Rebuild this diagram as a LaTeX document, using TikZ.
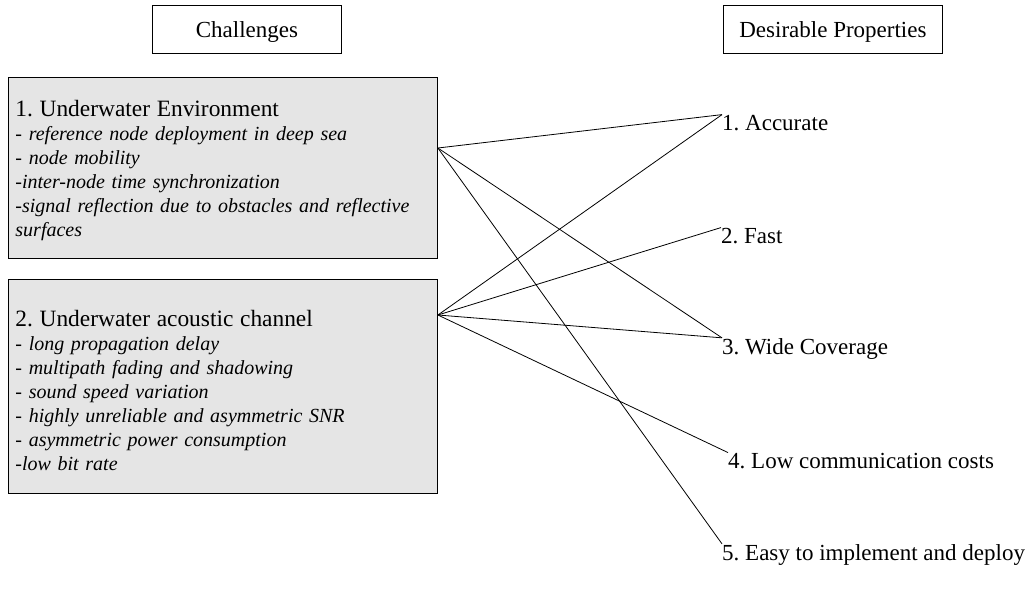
\documentclass[tikz,border=0pt]{standalone}
\usepackage{fontspec}
\setmainfont{Liberation Serif}
\definecolor{boxgray}{gray}{0.9}
\frenchspacing

\begin{document}
\begin{tikzpicture}[x=1pt, y=-1pt]
% Styles
\tikzset{
    head/.style={draw, line width=0.9pt, minimum height=48pt, inner sep=0pt, text depth=0pt, anchor=north west, font=\fontsize{23}{27}\selectfont},
    chbox/.style={draw, line width=0.9pt, fill=boxgray, anchor=north west, minimum width=429pt, inner xsep=7pt, inner ysep=0pt, text width=415pt, align=left, font=\fontsize{20}{24}\selectfont},
    prop/.style={anchor=base west, inner sep=0pt, font=\fontsize{23}{27}\selectfont},
    link/.style={line width=0.8pt}
}
\useasboundingbox (0,0) rectangle (1034,590);

% Nodes
\node[head, minimum width=189pt] (CH) at (152,5) {Challenges};
\node[head, minimum width=219pt] (DP) at (723,5) {Desirable Properties};

\node[chbox, minimum height=181pt] (ENV) at (8,77) {{\fontsize{23.4}{27}\selectfont\rule{0pt}{22pt}1. Underwater Environment}\\
    \textit{- reference node deployment in deep sea}\\
    \textit{- node mobility}\\
    \textit{-inter-node time synchronization}\\
    \textit{-signal reflection due to obstacles and reflective}\\
    \textit{surfaces}};
\node[chbox, minimum height=214pt] (ACH) at (8,279) {{\fontsize{23.4}{27}\selectfont\rule{0pt}{25pt}2. Underwater acoustic channel}\\
    - \textit{long propagation delay}\\
    \textit{- multipath fading and shadowing}\\
    \textit{- sound speed variation}\\
    \textit{- highly unreliable and asymmetric SNR}\\
    \textit{- asymmetric power consumption}\\
    \textit{-low bit rate}};

\coordinate (ENVout) at ([yshift=-71pt]ENV.north east);
\coordinate (ACHout) at ([yshift=-36pt]ACH.north east);

\node[prop] (P1) at (722,130) {1. Accurate};
\node[prop] (P2) at (721,243) {2. Fast};
\node[prop] (P3) at (722,354) {3. Wide Coverage};
\node[prop] (P4) at (728,468) {4. Low communication costs};
\node[prop] (P5) at (722,560) {5. Easy to implement and deploy};

% Connections
\draw[link] (ENVout) -- (P1.north west);
\draw[link] (ENVout) -- (P3.north west);
\draw[link] (ENVout) -- (P5.north west);

\draw[link] (ACHout) -- (P1.north west);
\draw[link] (ACHout) -- (P2.north west);
\draw[link] (ACHout) -- (P3.north west);
\draw[link] (ACHout) -- (P4.north west);
\end{tikzpicture}
\end{document}
